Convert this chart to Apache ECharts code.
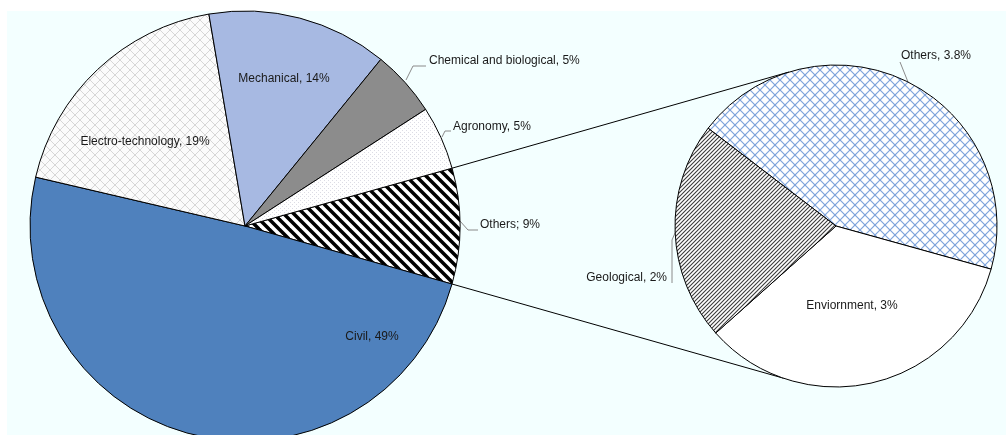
<!DOCTYPE html>
<html><head><meta charset="utf-8">
<script src="https://cdn.jsdelivr.net/npm/echarts@6/dist/echarts.min.js"></script>
<style>html,body{margin:0;padding:0;background:#fff}#c{width:1006px;height:435px}</style>
</head><body><div id="c"></div>
<script>
// ---- data ----
const leftNames  = ['Others', 'Civil', 'Electro-technology', 'Mechanical', 'Chemical and biological', 'Agronomy'];
const leftValues = [8.7, 49.4, 18.7, 13.6, 5.0, 4.8];
const leftLabels = ['Others; 9%', 'Civil, 49%', 'Electro-technology, 19%', 'Mechanical, 14%', 'Chemical and biological, 5%', 'Agronomy, 5%'];

const rightNames  = ['Others', 'Enviornment', 'Geological'];
const rightValues = [3.8, 2.95, 1.9];
const rightLabels = ['Others, 3.8%', 'Enviornment, 3%', 'Geological, 2%'];

// ---- layout ----
const LC = [245, 226], LR = 215, LSTART = 15.6;
const RC = [836, 226], RR = 161, RSTART = 142.6;
const CONN_TOP = 107, CONN_BOT = -109;

const leftLabelPos = [
  {x: 480, y: 225, align: 'left', line: [[460, 221], [468, 230], [478, 230]]},
  {x: 372, y: 337, align: 'center'},
  {x: 145, y: 142, align: 'center'},
  {x: 284, y: 79, align: 'center'},
  {x: 429, y: 61, align: 'left', line: [[406, 80], [413, 66], [426, 66]]},
  {x: 453, y: 127, align: 'left', line: [[442, 137], [445, 131], [451, 131]]}
];
const rightLabelPos = [
  {x: 901, y: 56, align: 'left', line: [[908, 82], [900, 62], [900, 62]]},
  {x: 852, y: 306, align: 'center'},
  {x: 667, y: 278, align: 'right', line: [[675, 233], [672, 240], [672, 283]]}
];

// ---- patterns ----
function tile(p, bg) {
  const c = document.createElement('canvas'); c.width = p; c.height = p;
  const g = c.getContext('2d'); g.fillStyle = bg; g.fillRect(0, 0, p, p); return [c, g];
}
function stripes(p, w, color, bg, dir) {
  const [c, g] = tile(p, bg);
  g.strokeStyle = color; g.lineWidth = w;
  for (let k = -1; k <= 2; k++) {
    g.beginPath();
    if (dir === 'back') { g.moveTo(k * p - p, -p); g.lineTo(k * p + 2 * p, 2 * p); }
    else { g.moveTo(k * p + p, -p); g.lineTo(k * p - 2 * p, 2 * p); }
    g.stroke();
  }
  return c;
}
function lattice(p, w, color, bg) {
  const [c, g] = tile(p, bg);
  g.strokeStyle = color; g.lineWidth = w;
  for (let k = -1; k <= 2; k++) {
    g.beginPath(); g.moveTo(k * p - p, -p); g.lineTo(k * p + 2 * p, 2 * p); g.stroke();
    g.beginPath(); g.moveTo(k * p + p, -p); g.lineTo(k * p - 2 * p, 2 * p); g.stroke();
  }
  return c;
}
function dots(p, color, bg) {
  const [c, g] = tile(p, bg);
  g.fillStyle = color; g.fillRect(0, 0, 1, 1); g.fillRect(p / 2, p / 2, 1, 1);
  return c;
}
const pat = (c) => ({image: c, repeat: 'repeat'});

const leftColors = [
  pat(stripes(10, 3.5, '#000000', '#ffffff', 'back')),
  '#4F81BD',
  pat(lattice(10, 1, '#d6d6d6', '#fbfbfb')),
  '#A7B9E2',
  '#8C8C8C',
  pat(dots(4, '#dcdce4', '#ffffff'))
];
const rightColors = [
  pat(lattice(10, 1.2, '#7EA3DA', '#ffffff')),
  '#ffffff',
  pat(stripes(4, 1.1, '#3a3a3a', '#ffffff', 'fwd'))
];

const font = {fontFamily: 'Liberation Sans, Arial, sans-serif', fontSize: 12, color: '#1a1a1a'};

function buildData(names, values, labels, colors, pos) {
  return names.map((n, i) => ({
    name: n, value: values[i],
    itemStyle: {color: colors[i]},
    label: Object.assign({show: true, formatter: labels[i], position: pos[i].line ? 'outside' : 'inside'}, font),
    labelLine: {show: !!pos[i].line, lineStyle: {color: '#8a8a8a', width: 1}}
  }));
}
function layoutFn(pos) {
  return function (p) {
    const L = pos[p.dataIndex];
    const o = {x: L.x, y: L.y, align: L.align, verticalAlign: 'middle'};
    if (L.line) o.labelLinePoints = L.line;
    return o;
  };
}

// connectors computed from the Others slice of the main pie
const total = leftValues.reduce((a, b) => a + b, 0);
const span = 360 * leftValues[0] / total;
const rad = (d) => d * Math.PI / 180;
const pt = (c, r, a) => [c[0] + r * Math.cos(rad(a)), c[1] - r * Math.sin(rad(a))];
const lTop = pt(LC, LR, LSTART), lBot = pt(LC, LR, LSTART - span);
const rTop = pt(RC, RR, CONN_TOP), rBot = pt(RC, RR, CONN_BOT);

const chart = echarts.init(document.getElementById('c'), null, {renderer: 'canvas'});
chart.setOption({
  animation: false,
  backgroundColor: '#ffffff',
  graphic: [
    {type: 'rect', shape: {x: 7, y: 11, width: 1000, height: 430}, style: {fill: '#F3FFFF'}, z: -10},
    {type: 'line', shape: {x1: lTop[0], y1: lTop[1], x2: rTop[0], y2: rTop[1]}, style: {stroke: '#000', lineWidth: 1}, z: 1},
    {type: 'line', shape: {x1: lBot[0], y1: lBot[1], x2: rBot[0], y2: rBot[1]}, style: {stroke: '#000', lineWidth: 1}, z: 1}
  ],
  series: [
    {
      type: 'pie', center: LC, radius: LR, startAngle: LSTART, clockwise: true,
      avoidLabelOverlap: false, emphasis: {disabled: true}, silent: true,
      itemStyle: {borderColor: '#000', borderWidth: 1},
      data: buildData(leftNames, leftValues, leftLabels, leftColors, leftLabelPos),
      labelLayout: layoutFn(leftLabelPos)
    },
    {
      type: 'pie', center: RC, radius: RR, startAngle: RSTART, clockwise: true,
      avoidLabelOverlap: false, emphasis: {disabled: true}, silent: true,
      itemStyle: {borderColor: '#000', borderWidth: 1},
      data: buildData(rightNames, rightValues, rightLabels, rightColors, rightLabelPos),
      labelLayout: layoutFn(rightLabelPos)
    }
  ]
});
</script></body></html>
